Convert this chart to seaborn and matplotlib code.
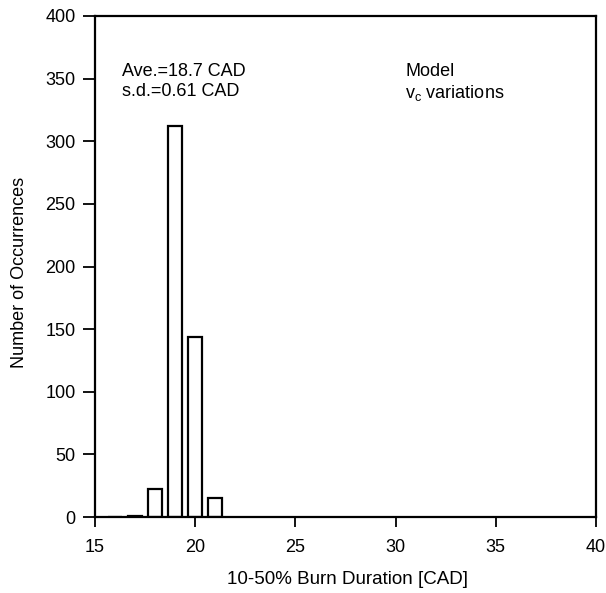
import matplotlib
matplotlib.use("Agg")
import matplotlib.pyplot as plt
import seaborn as sns
import pandas as pd

# Data
durations = [16, 17, 18, 19, 20, 21]
occurrences = [0, 1, 22, 312, 144, 15]
x_ticks = [15, 20, 25, 30, 35, 40]
y_ticks = [0, 50, 100, 150, 200, 250, 300, 350, 400]

df = pd.DataFrame({"duration": durations, "count": occurrences})

sns.set_style("ticks")
plt.rcParams["font.family"] = ["Liberation Sans", "DejaVu Sans"]
plt.rcParams["text.color"] = "black"
plt.rcParams["axes.labelcolor"] = "black"
plt.rcParams["xtick.color"] = "black"
plt.rcParams["ytick.color"] = "black"

fig = plt.figure(figsize=(6.06, 5.93), dpi=100)
ax = fig.add_axes([95/606, 1 - 517/593, (596-95)/606, (517-16)/593])

sns.histplot(data=df, x="duration", weights="count", discrete=True, shrink=0.7,
             color="white", edgecolor="black", linewidth=1.6, alpha=1, ax=ax)

ax.set_xlim(15, 40)
ax.set_ylim(0, 400)
ax.set_xticks(x_ticks)
ax.set_yticks(y_ticks)
ax.tick_params(axis="x", labelsize=13, width=1.3, length=7.5, pad=8, direction="out")
ax.tick_params(axis="y", labelsize=13, width=1.3, length=9, pad=5, direction="out")
for s in ax.spines.values():
    s.set_visible(True)
    s.set_linewidth(1.6)
    s.set_color("black")

ax.set_xlabel("10-50% Burn Duration [CAD]", fontsize=13.5)
ax.set_ylabel("Number of Occurrences", fontsize=13)
ax.xaxis.set_label_coords(0.504, -0.108)
ax.yaxis.set_label_coords(-0.133, 0.489)

ax.text(0.054, 0.906, "Ave.=18.7 CAD\ns.d.=0.61 CAD", transform=ax.transAxes,
        fontsize=13, va="top", ha="left", linespacing=1.2)
ax.text(0.619, 0.906, "Model\n$\\mathregular{v_c}$ variations", transform=ax.transAxes,
        fontsize=13, va="top", ha="left", linespacing=1.2)

fig.savefig("out.png", dpi=100)
